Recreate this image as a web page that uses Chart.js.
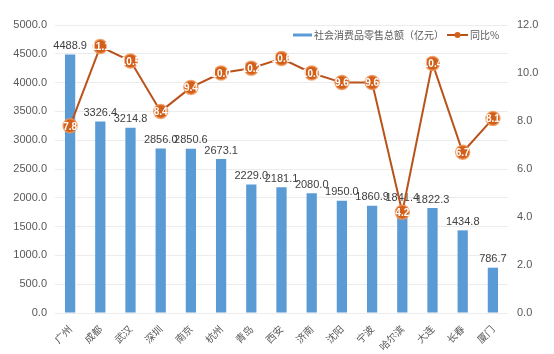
<!DOCTYPE html>
<html>
<head>
<meta charset="utf-8">
<script src="https://cdn.jsdelivr.net/npm/chart.js@4"></script>
<style>
  html, body { margin: 0; padding: 0; background: #fff; }
  #wrap { width: 554px; height: 354px; }
</style>
</head>
<body>
<div id="wrap"><canvas id="c" width="554" height="354"></canvas></div>
<script>
const cities = ['广州', '成都', '武汉', '深圳', '南京', '杭州', '青岛', '西安', '济南', '沈阳', '宁波', '哈尔滨', '大连', '长春', '厦门']
const retail = [4488.9, 3326.4, 3214.8, 2856.0, 2850.6, 2673.1, 2229.0, 2181.1, 2080.0, 1950.0, 1860.9, 1841.4, 1822.3, 1434.8, 786.7]
const growth = [7.8, 11.1, 10.5, 8.4, 9.4, 10.0, 10.2, 10.6, 10.0, 9.6, 9.6, 4.2, 10.4, 6.7, 8.1]
const barName = '社会消费品零售总额（亿元）'
const lineName = '同比%'

const BLUE = '#5B9BD5'
const ORANGE = '#D2601A'
const LINE = '#B9531B'
const TXT = '#595959'

// value labels above the bars, drawn before the line so the dots sit on top
const barLabels = {
  id: 'barLabels',
  afterDatasetDraw (chart, args) {
    if (args.index !== 0) return
    const ctx = chart.ctx
    ctx.save()
    ctx.font = '11px "Liberation Sans", Arial, sans-serif'
    ctx.fillStyle = '#404040'
    ctx.textAlign = 'center'
    ctx.textBaseline = 'bottom'
    args.meta.data.forEach((bar, i) => {
      ctx.fillText(retail[i].toFixed(1), bar.x, bar.y - 3)
    })
    ctx.restore()
  }
}

const pointLabels = {
  id: 'pointLabels',
  afterDatasetsDraw (chart) {
    const meta = chart.getDatasetMeta(1)
    const ctx = chart.ctx
    ctx.save()
    ctx.font = 'bold 10px "Liberation Sans", Arial, sans-serif'
    ctx.fillStyle = '#fff'
    ctx.textAlign = 'center'
    ctx.textBaseline = 'middle'
    meta.data.forEach((pt, i) => {
      ctx.fillText(growth[i].toFixed(1), pt.x, pt.y + 1)
    })
    ctx.restore()
  }
}

// legend sits inside the plot, top right
const innerLegend = {
  id: 'innerLegend',
  afterDraw (chart) {
    const ctx = chart.ctx
    ctx.save()
    ctx.font = '10px "Noto Sans CJK SC", sans-serif'
    ctx.textBaseline = 'middle'
    const y = 35
    ctx.fillStyle = BLUE
    ctx.fillRect(293, y - 1.5, 19, 3)
    ctx.fillStyle = TXT
    ctx.fillText(barName, 314, y)
    ctx.strokeStyle = LINE
    ctx.lineWidth = 2
    ctx.beginPath()
    ctx.moveTo(447, y)
    ctx.lineTo(468, y)
    ctx.stroke()
    ctx.fillStyle = ORANGE
    ctx.beginPath()
    ctx.arc(457.5, y, 3, 0, Math.PI * 2)
    ctx.fill()
    ctx.fillStyle = TXT
    ctx.fillText(lineName, 470, y)
    ctx.restore()
  }
}

const chart = new Chart(document.getElementById('c'), {
  type: 'bar',
  data: {
    labels: cities,
    datasets: [
      {
        type: 'bar',
        label: barName,
        data: retail,
        backgroundColor: BLUE,
        yAxisID: 'y',
        order: 1,
        barPercentage: 0.34,
        categoryPercentage: 1
      },
      {
        type: 'line',
        label: lineName,
        data: growth,
        yAxisID: 'y1',
        order: 0,
        borderColor: LINE,
        borderWidth: 2,
        pointRadius: 7,
        pointBackgroundColor: ORANGE,
        pointBorderColor: 'rgba(240,150,90,0.8)',
        pointBorderWidth: 1.5,
        tension: 0
      }
    ]
  },
  options: {
    responsive: false,
    animation: false,
    layout: { padding: { top: 25, left: 0, right: 0, bottom: 0 } },
    plugins: {
      legend: { display: false },
      tooltip: { enabled: false }
    },
    scales: {
      x: {
        grid: { display: false },
        border: { display: false },
        ticks: {
          color: TXT,
          font: { family: '"Noto Sans CJK SC", serif', size: 10 },
          minRotation: 45,
          maxRotation: 45,
          padding: 2
        },
        afterFit (s) { s.height = 41 }
      },
      y: {
        position: 'left',
        min: 0,
        max: 5000,
        ticks: {
          stepSize: 500,
          color: TXT,
          font: { family: '"Liberation Sans", Arial, sans-serif', size: 11 },
          callback: v => v.toFixed(1),
          padding: 8
        },
        grid: { color: '#ECECEC', drawTicks: false },
        border: { display: false },
        afterFit (s) { s.width = 55 }
      },
      y1: {
        position: 'right',
        min: 0,
        max: 12,
        ticks: {
          stepSize: 2,
          color: TXT,
          font: { family: '"Liberation Sans", Arial, sans-serif', size: 11 },
          callback: v => v.toFixed(1),
          padding: 9
        },
        grid: { display: false, drawTicks: false },
        border: { display: false },
        afterFit (s) { s.width = 46 }
      }
    }
  },
  plugins: [barLabels, pointLabels, innerLegend]
})
</script>
</body>
</html>
